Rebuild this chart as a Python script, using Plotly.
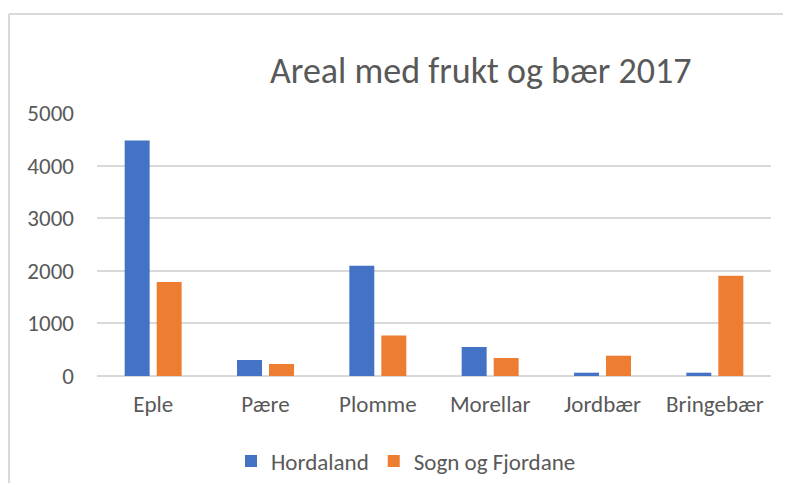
import plotly.graph_objects as go

categories = ["Eple", "Pære", "Plomme", "Morellar", "Jordbær", "Bringebær"]
hordaland = [4475, 304, 2095, 551, 63, 63]
sogn_og_fjordane = [1785, 228, 772, 342, 386, 1905]
y_ticks = [0, 1000, 2000, 3000, 4000, 5000]

W, H = 775, 475   # fits inside the 791x491 window with the 8px body margin
OFF = 8  # page body margin
L, R, T, B = 89, 12, 105, 107
pw, ph = W - L - R, H - T - B


def px_x(page_x):
    return (page_x - OFF - L) / pw


def px_y(page_y):
    return (H - B - (page_y - OFF)) / ph


font_family = "Carlito, Calibri, 'Open Sans', sans-serif"
gray = "#595959"
border = "#D9D9D9"

fig = go.Figure()
fig.add_trace(go.Bar(name="Hordaland", x=categories, y=hordaland, marker_color="#4472C4",
                     marker_line_width=0))
fig.add_trace(go.Bar(name="Sogn og Fjordane", x=categories, y=sogn_og_fjordane, marker_color="#ED7D31",
                     marker_line_width=0))

fig.update_layout(
    width=W, height=H,
    margin=dict(l=L, r=R, t=T, b=B, autoexpand=False),
    paper_bgcolor="white", plot_bgcolor="white",
    barmode="group", bargap=0.43, bargroupgap=0.22,
    font=dict(family=font_family, color=gray),
    showlegend=True,
    legend=dict(orientation="h", x=px_x(406), xanchor="center", y=px_y(461), yanchor="middle",
                font=dict(size=23, color=gray), itemwidth=30, traceorder="normal"),
    xaxis=dict(showgrid=False, showline=False, ticks="", tickfont=dict(size=23, color=gray),
               ticklabelstandoff=12, automargin=False),
    yaxis=dict(range=[0, 5000], tickvals=y_ticks, showgrid=True, gridcolor="#D9D9D9", gridwidth=1.5,
               zeroline=True, zerolinecolor="#D9D9D9", zerolinewidth=1.5, showline=False, ticks="",
               tickfont=dict(size=23, color=gray), ticklabelstandoff=22, automargin=False),
    annotations=[dict(text="Areal med frukt og bær 2017", xref="paper", yref="paper",
                      x=px_x(481), y=px_y(71), xanchor="center", yanchor="middle", showarrow=False,
                      font=dict(size=36, color=gray, family="'Carlito Light', Carlito, Calibri, sans-serif"))],
    shapes=[
        dict(type="line", xref="paper", yref="paper", x0=px_x(9), x1=px_x(783),
             y0=px_y(14), y1=px_y(14), line=dict(color=border, width=2), layer="below"),
        dict(type="line", xref="paper", yref="paper", x0=px_x(9), x1=px_x(9),
             y0=px_y(14), y1=px_y(483), line=dict(color=border, width=2), layer="below"),
    ],
)

fig.write_html("out.html")
